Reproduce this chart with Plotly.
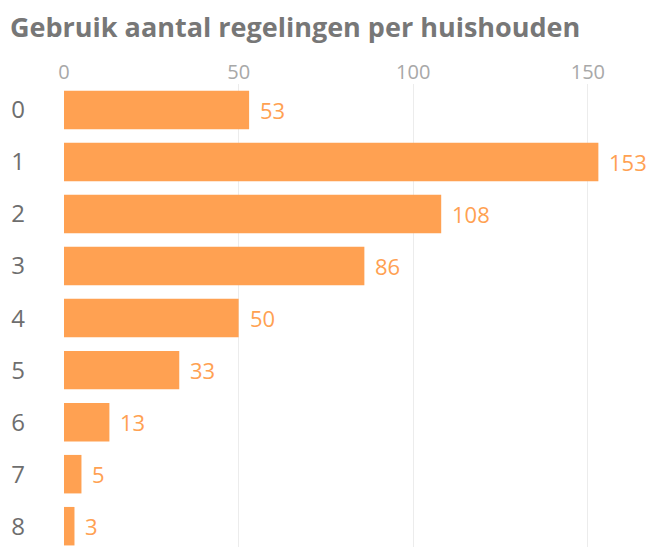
import plotly.graph_objects as go

categories = ["0", "1", "2", "3", "4", "5", "6", "7", "8"]
values = [53, 153, 108, 86, 50, 33, 13, 5, 3]
x_ticks = [0, 50, 100, 150]

title_text = "Gebruik aantal regelingen per huishouden"
bar_color = "#FFA152"
label_color = "#FFA152"
font_family = "Open Sans"

# the page body has an 8px margin, so the figure is offset by (8, 8)
fig = go.Figure()
fig.add_trace(go.Bar(
    x=values, y=categories, orientation="h",
    marker=dict(color=bar_color, line=dict(width=0)),
    hoverinfo="skip",
))

for c, v in zip(categories, values):
    fig.add_annotation(
        x=v, y=c, text=str(v), showarrow=False,
        xanchor="left", xshift=9, yanchor="middle",
        font=dict(family=font_family, size=22, color=label_color),
    )

fig.add_annotation(
    text="<b>" + title_text + "</b>", xref="paper", yref="paper",
    x=-56 / 592, y=1, yshift=78, xanchor="left", yanchor="top",
    showarrow=False,
    font=dict(family=font_family, size=27, color="#777777"),
)

fig.update_layout(
    width=648, height=539,
    margin=dict(l=56, r=0, t=76, b=0, autoexpand=False),
    paper_bgcolor="white", plot_bgcolor="white",
    bargap=0.26,
    showlegend=False,
    font=dict(family=font_family),
    xaxis=dict(
        side="top", range=[0, 169.5], tickvals=x_ticks,
        showgrid=True, gridcolor="#ececec", gridwidth=1,
        zeroline=False, showline=False, ticks="", automargin=False,
        tickfont=dict(size=20, color="#a8a8a8", family=font_family),
    ),
    yaxis=dict(
        type="category", categoryorder="array", categoryarray=categories,
        range=[8.4, -0.5], showgrid=False, zeroline=False, showline=False,
        ticks="", ticklabelstandoff=38, automargin=False,
        tickfont=dict(size=24, color="#6e6e6e", family=font_family),
    ),
)

fig.write_html("out.html")
